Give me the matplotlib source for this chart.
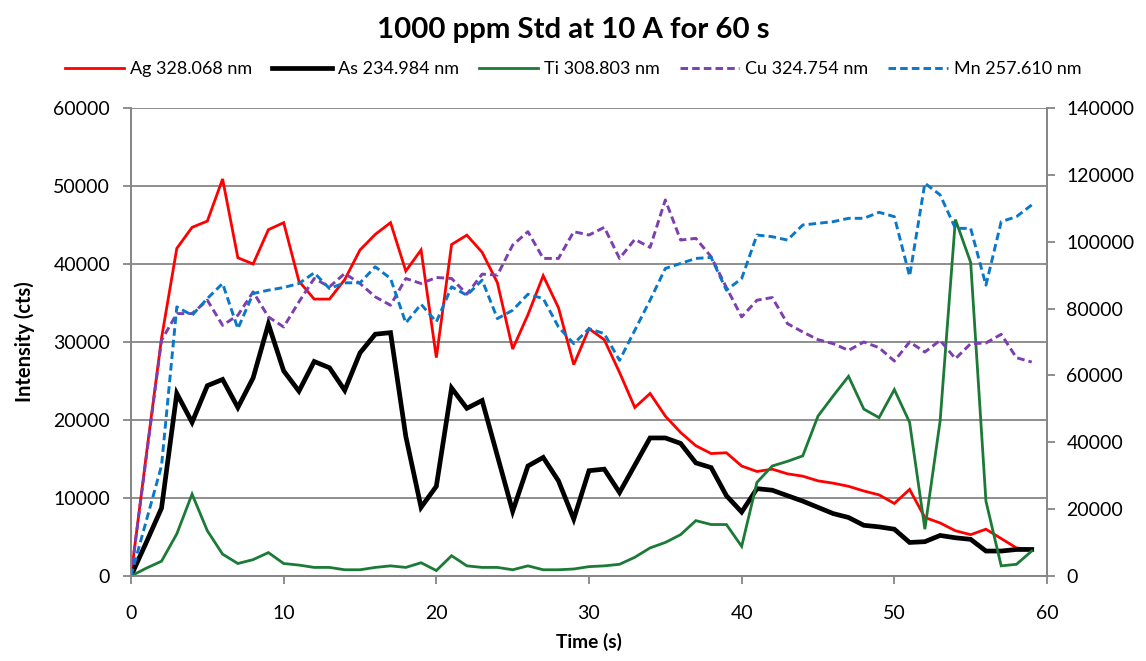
import matplotlib
matplotlib.use("Agg")
import matplotlib.pyplot as plt
import numpy as np

plt.rcParams['font.family'] = ['Lato', 'DejaVu Sans']

time_s = list(range(60))

ag = [0, 15500, 30500, 42000, 44700, 45500, 50900, 40800, 40000, 44400,
      45300, 37800, 35500, 35500, 38000, 41800, 43800, 45300, 39100, 41800,
      28000, 42500, 43700, 41500, 37600, 29100, 33500, 38500, 34400, 27100,
      31700, 30300, 26100, 21600, 23400, 20500, 18400, 16700, 15700, 15800,
      14100, 13400, 13700, 13100, 12800, 12200, 11900, 11500, 10900, 10400,
      9300, 11100, 7500, 6800, 5800, 5300, 6000, 4800, 3600, 3400]

as_ = [0, 4300, 8700, 23400, 19700, 24400, 25200, 21600, 25400, 32300,
       26300, 23700, 27500, 26700, 23800, 28600, 31000, 31200, 17900, 8800,
       11500, 24100, 21500, 22500, 15400, 8300, 14100, 15200, 12200, 7300,
       13500, 13700, 10700, 14200, 17700, 17700, 17000, 14500, 13900, 10300,
       8200, 11200, 11000, 10300, 9600, 8800, 8000, 7500, 6500, 6300,
       6000, 4300, 4400, 5200, 4900, 4700, 3200, 3200, 3400, 3400]

ti = [0, 1000, 1900, 5400, 10500, 5800, 2800, 1600, 2100, 3000,
      1600, 1400, 1100, 1100, 800, 800, 1100, 1300, 1100, 1700,
      700, 2600, 1300, 1100, 1100, 800, 1300, 800, 800, 900,
      1200, 1300, 1500, 2400, 3600, 4300, 5300, 7100, 6600, 6600,
      3800, 12000, 14100, 14700, 15400, 20500, 23100, 25600, 21400, 20300,
      23900, 19700, 6000, 19900, 45700, 40200, 9600, 1300, 1500, 3200]

cu = [0, 35500, 70500, 78500, 78500, 82500, 75000, 78000, 85000, 77500,
      74500, 82000, 89000, 86500, 90500, 87500, 83500, 81000, 89000, 87500,
      89300, 89000, 84300, 90300, 90000, 99000, 103000, 95000, 95000, 103000,
      102000, 104300, 95000, 100700, 98300, 112500, 100500, 101000, 95500, 86300,
      77500, 82500, 83300, 75500, 73000, 70700, 69500, 67500, 70000, 68300,
      64300, 70000, 67000, 70500, 65000, 69500, 69700, 72300, 65300, 64000]

mn = [0, 16500, 33000, 80500, 78000, 83000, 87500, 74000, 84500, 85500,
      86300, 87500, 90700, 86000, 87700, 87700, 92500, 89000, 75700, 81300,
      76000, 86500, 84000, 88500, 77000, 79500, 84300, 83000, 74500, 69500,
      74000, 72500, 64500, 73500, 82500, 92000, 93500, 95000, 95300, 85500,
      89000, 102000, 101500, 100500, 105000, 105500, 106000, 107000, 107000, 108800,
      107500, 89700, 117500, 114000, 104000, 104000, 87000, 106000, 107500, 111000]

labels = ["Ag 328.068 nm", "As 234.984 nm", "Ti 308.803 nm", "Cu 324.754 nm", "Mn 257.610 nm"]
title = "1000 ppm Std at 10 A for 60 s"

fig = plt.figure(figsize=(11.46, 6.61), dpi=100)
ax = fig.add_axes([131/1146, 85/661, 916/1146, 468/661])
ax2 = ax.twinx()

gridc = '#868686'
l1, = ax.plot(time_s, ag, color='#FF0000', lw=2.0, label=labels[0], solid_joinstyle='miter')
l2, = ax.plot(time_s, as_, color='black', lw=3.4, label=labels[1], solid_joinstyle='miter')
l3, = ax.plot(time_s, ti, color='#1B7A36', lw=2.0, label=labels[2], solid_joinstyle='miter')
l4, = ax2.plot(time_s, cu, color='#7B3FB0', lw=2.1, ls=(0, (2.6, 1.4)), label=labels[3])
l5, = ax2.plot(time_s, mn, color='#0A78C8', lw=2.1, ls=(0, (2.6, 1.4)), label=labels[4])

ax.set_xlim(0, 60)
ax.set_ylim(0, 60000)
ax2.set_ylim(0, 140000)
ax.set_xticks(range(0, 61, 10))
ax.set_yticks(range(0, 60001, 10000))
ax2.set_yticks(range(0, 140001, 20000))

ax.yaxis.grid(True, color=gridc, lw=1.3)
ax.set_axisbelow(True)
for a in (ax, ax2):
    for s in a.spines.values():
        s.set_color(gridc)
        s.set_linewidth(1.3)
    a.spines['top'].set_visible(False)
    a.tick_params(colors=gridc, labelcolor='black', labelsize=14, length=6, width=1.3)
ax.tick_params(axis='x', pad=15)
ax.tick_params(axis='y', pad=9)
ax2.tick_params(axis='y', pad=8)

ax.set_ylabel("Intensity (cts)", fontsize=14.5, fontweight='bold', labelpad=13)
ax.set_xlabel("Time (s)", fontsize=13.8, fontweight='bold', labelpad=8)

fig.text(0.5, 1 - 30/661, title, ha='center', va='center', fontsize=21.2, fontweight='bold')
fig.legend(handles=[l1, l2, l3, l4, l5], loc='center', bbox_to_anchor=(0.5, 1 - 69/661),
           ncol=5, frameon=False, fontsize=13, handlelength=3.3, handletextpad=0.33,
           columnspacing=1.1)

fig.savefig("out.png", dpi=100)
